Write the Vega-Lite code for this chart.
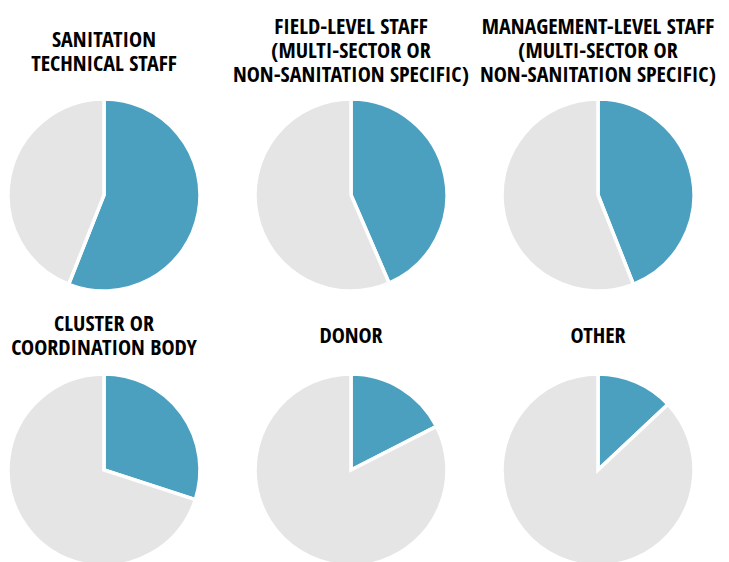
{
  "$schema": "https://vega.github.io/schema/vega-lite/v6.json",
  "padding": {"left": 0, "top": 16, "right": 0, "bottom": 0},
  "background": "white",
  "datasets": {
    "shares": [
      {"panel": "p1", "cat": "yes", "value": 56},
      {"panel": "p1", "cat": "no", "value": 44},
      {"panel": "p2", "cat": "yes", "value": 43.5},
      {"panel": "p2", "cat": "no", "value": 56.5},
      {"panel": "p3", "cat": "yes", "value": 44},
      {"panel": "p3", "cat": "no", "value": 56},
      {"panel": "p4", "cat": "yes", "value": 30},
      {"panel": "p4", "cat": "no", "value": 70},
      {"panel": "p5", "cat": "yes", "value": 17.5},
      {"panel": "p5", "cat": "no", "value": 82.5},
      {"panel": "p6", "cat": "yes", "value": 13},
      {"panel": "p6", "cat": "no", "value": 87}
    ]
  },
  "spacing": 15,
  "vconcat": [
    {
      "spacing": 39,
      "bounds": "flush",
      "hconcat": [
        {
          "width": 208, "height": 192,
          "title": {"text": ["SANITATION", "TECHNICAL STAFF"], "offset": 16},
          "data": {"name": "shares"},
          "transform": [{"filter": "datum.panel === 'p1'"}],
          "mark": {"type": "arc", "outerRadius": 96, "stroke": "white", "strokeWidth": 3.5},
          "encoding": {
            "theta": {"field": "value", "type": "quantitative", "stack": true},
            "color": {"field": "cat", "type": "nominal", "scale": {"domain": ["yes", "no"], "range": ["#4BA0BF", "#E5E5E5"]}, "legend": null},
            "order": {"field": "cat", "sort": "descending"}
          }
        },
        {
          "width": 208, "height": 192,
          "title": {"text": ["FIELD-LEVEL STAFF", "(MULTI-SECTOR OR", "NON-SANITATION SPECIFIC)"], "offset": 5},
          "data": {"name": "shares"},
          "transform": [{"filter": "datum.panel === 'p2'"}],
          "mark": {"type": "arc", "outerRadius": 96, "stroke": "white", "strokeWidth": 3.5},
          "encoding": {
            "theta": {"field": "value", "type": "quantitative", "stack": true},
            "color": {"field": "cat", "type": "nominal", "scale": {"domain": ["yes", "no"], "range": ["#4BA0BF", "#E5E5E5"]}, "legend": null},
            "order": {"field": "cat", "sort": "descending"}
          }
        },
        {
          "width": 208, "height": 192,
          "title": {"text": ["MANAGEMENT-LEVEL STAFF", "(MULTI-SECTOR OR", "NON-SANITATION SPECIFIC)"], "offset": 5},
          "data": {"name": "shares"},
          "transform": [{"filter": "datum.panel === 'p3'"}],
          "mark": {"type": "arc", "outerRadius": 96, "stroke": "white", "strokeWidth": 3.5},
          "encoding": {
            "theta": {"field": "value", "type": "quantitative", "stack": true},
            "color": {"field": "cat", "type": "nominal", "scale": {"domain": ["yes", "no"], "range": ["#4BA0BF", "#E5E5E5"]}, "legend": null},
            "order": {"field": "cat", "sort": "descending"}
          }
        }
      ]
    },
    {
      "spacing": 39,
      "bounds": "flush",
      "hconcat": [
        {
          "width": 208, "height": 192,
          "title": {"text": ["CLUSTER OR", "COORDINATION BODY"], "offset": 7},
          "data": {"name": "shares"},
          "transform": [{"filter": "datum.panel === 'p4'"}],
          "mark": {"type": "arc", "outerRadius": 96, "stroke": "white", "strokeWidth": 3.5},
          "encoding": {
            "theta": {"field": "value", "type": "quantitative", "stack": true},
            "color": {"field": "cat", "type": "nominal", "scale": {"domain": ["yes", "no"], "range": ["#4BA0BF", "#E5E5E5"]}, "legend": null},
            "order": {"field": "cat", "sort": "descending"}
          }
        },
        {
          "width": 208, "height": 192,
          "title": {"text": ["DONOR"], "offset": 19},
          "data": {"name": "shares"},
          "transform": [{"filter": "datum.panel === 'p5'"}],
          "mark": {"type": "arc", "outerRadius": 96, "stroke": "white", "strokeWidth": 3.5},
          "encoding": {
            "theta": {"field": "value", "type": "quantitative", "stack": true},
            "color": {"field": "cat", "type": "nominal", "scale": {"domain": ["yes", "no"], "range": ["#4BA0BF", "#E5E5E5"]}, "legend": null},
            "order": {"field": "cat", "sort": "descending"}
          }
        },
        {
          "width": 208, "height": 192,
          "title": {"text": ["OTHER"], "offset": 19},
          "data": {"name": "shares"},
          "transform": [{"filter": "datum.panel === 'p6'"}],
          "mark": {"type": "arc", "outerRadius": 96, "stroke": "white", "strokeWidth": 3.5},
          "encoding": {
            "theta": {"field": "value", "type": "quantitative", "stack": true},
            "color": {"field": "cat", "type": "nominal", "scale": {"domain": ["yes", "no"], "range": ["#4BA0BF", "#E5E5E5"]}, "legend": null},
            "order": {"field": "cat", "sort": "descending"}
          }
        }
      ]
    }
  ],
  "config": {
    "view": {"stroke": null},
    "title": {
      "font": "Open Sans Condensed, DejaVu Sans Condensed, Liberation Sans Narrow, Roboto, sans-serif",
      "fontSize": 22,
      "fontWeight": "bold",
      "color": "black",
      "lineHeight": 24,
      "anchor": "middle",
      "baseline": "bottom"
    }
  }
}
